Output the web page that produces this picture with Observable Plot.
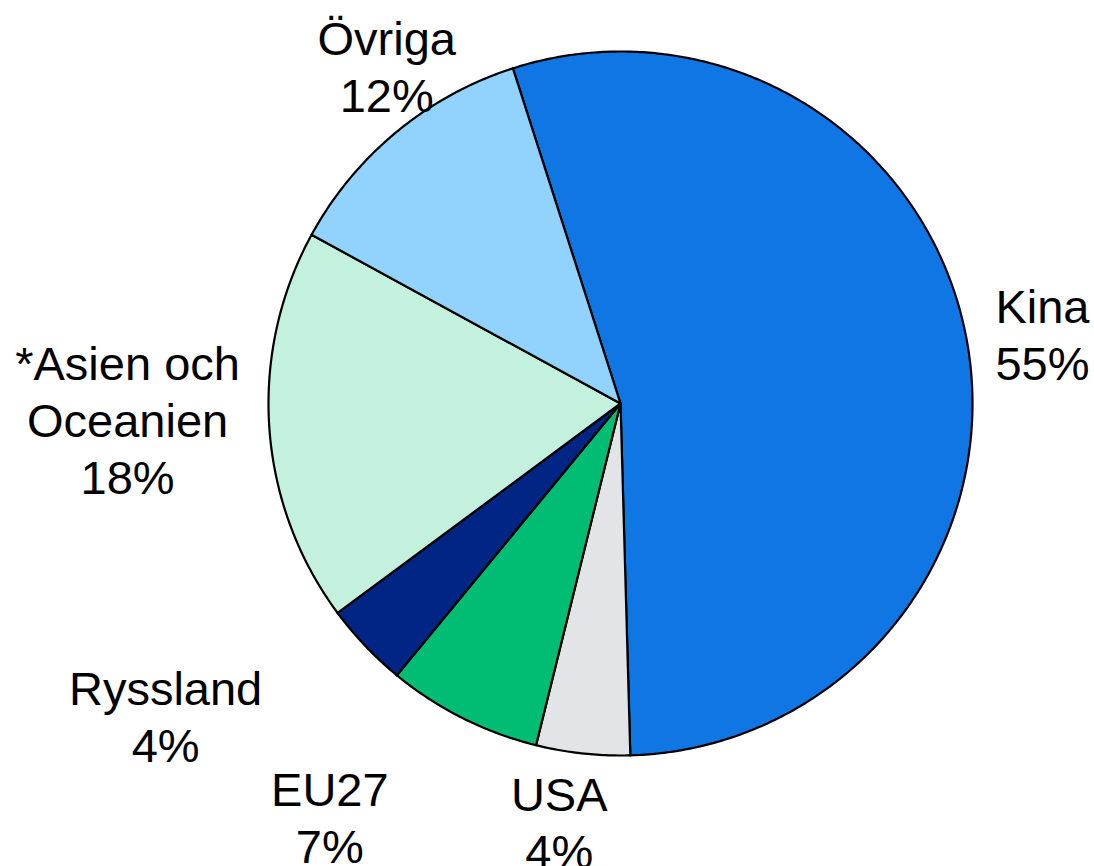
<!DOCTYPE html>
<html>
<head>
<meta charset="utf-8">
<script src="https://cdn.jsdelivr.net/npm/d3@7"></script>
<script src="https://cdn.jsdelivr.net/npm/@observablehq/plot@0.6"></script>
<style>
  html, body { margin: 0; padding: 0; background: #ffffff; }
  #chart { width: 1094px; height: 866px; }
</style>
</head>
<body>
<div id="chart"></div>
<script>
// ---- data ----
const categories = ["Kina", "USA", "EU27", "Ryssland", "*Asien och Oceanien", "Övriga"];
const shares = [54.5, 4.3, 7.1, 3.9, 18.1, 12.1];
const labelTexts = ["Kina\n55%", "USA\n4%", "EU27\n7%", "Ryssland\n4%", "*Asien och\nOceanien\n18%", "Övriga\n12%"];
const colors = ["#0f76e3", "#e2e4e7", "#00bd74", "#002584", "#c4f1dd", "#91d3fd"];

// ---- layout (label placement relative to slice middle) ----
const labelRadius = [1.215, 1.2, 1.434, 1.567, 1.401, 1.167];
const labelAngleShift = [0.3, 2.2, 8.5, 9.1, 2.2, 4.9]; // degrees
const startDeg = -17.8;

const W = 1094, H = 866, CX = 620, CY = 403, R = 352;
const rad = d => d * Math.PI / 180;

const pie = d3.pie().sort(null).value(d => d.value).startAngle(rad(startDeg)).endAngle(rad(startDeg) + 2 * Math.PI);
const arcs = pie(categories.map((name, i) => ({name, value: shares[i], i})));

// polygon points for each slice (center -> arc -> center), in unit-radius coordinates
const slicePts = [];
for (const a of arcs) {
  const name = a.data.name;
  slicePts.push({name, x: 0, y: 0});
  const n = Math.max(2, Math.ceil((a.endAngle - a.startAngle) / rad(0.5)));
  for (let k = 0; k <= n; k++) {
    const t = a.startAngle + (a.endAngle - a.startAngle) * k / n;
    slicePts.push({name, x: Math.sin(t), y: Math.cos(t)});
  }
  slicePts.push({name, x: 0, y: 0});
}

const labels = arcs.map((a, i) => {
  const mid = (a.startAngle + a.endAngle) / 2 + rad(labelAngleShift[i]);
  return {text: labelTexts[i], x: labelRadius[i] * Math.sin(mid), y: labelRadius[i] * Math.cos(mid)};
});

const chart = Plot.plot({
  width: W,
  height: H,
  margin: 0,
  x: {domain: [-CX / R, (W - CX) / R], axis: null},
  y: {domain: [-(H - CY) / R, CY / R], axis: null},
  color: {domain: categories, range: colors},
  style: {background: "#ffffff", overflow: "visible"},
  marks: [
    Plot.line(slicePts, {x: "x", y: "y", z: "name", fill: "name", stroke: "#000000", strokeWidth: 2.2, strokeLinejoin: "round"}),
    Plot.text(labels, {
      x: "x", y: "y", text: "text",
      fontSize: 47, lineHeight: 1.21,
      fontFamily: "'Liberation Sans', Arial, sans-serif",
      fill: "#000000"
    })
  ]
});
document.getElementById("chart").appendChild(chart);
</script>
</body>
</html>
